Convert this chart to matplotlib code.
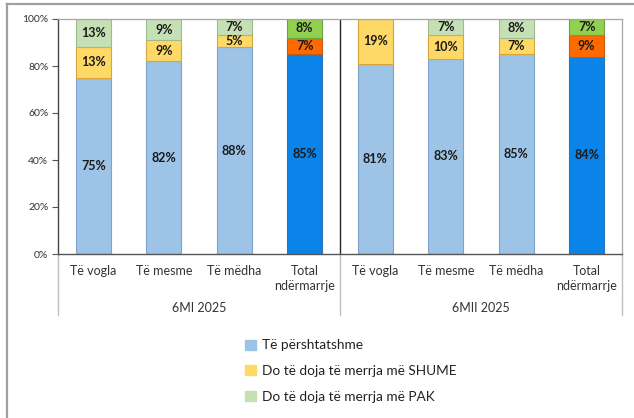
import matplotlib
matplotlib.use("Agg")
import matplotlib.pyplot as plt
from matplotlib.patches import Patch
from matplotlib.lines import Line2D
import numpy as np

plt.rcParams['font.family'] = ['Lato', 'DejaVu Sans']

categories = ["Të vogla", "Të mesme", "Të mëdha", "Total\nndërmarrje",
              "Të vogla", "Të mesme", "Të mëdha", "Total\nndërmarrje"]
groups = ["6MI 2025", "6MII 2025"]
adequate = [75, 82, 88, 85, 81, 83, 85, 84]
more = [13, 9, 5, 7, 19, 10, 7, 9]
less = [13, 9, 7, 8, 0, 7, 8, 7]
is_total = [False, False, False, True, False, False, False, True]
legend_labels = ["Të përshtatshme", "Do të doja të merrja më SHUME", "Do të doja të merrja më PAK"]

W, H = 634, 418
fig = plt.figure(figsize=(W / 100, H / 100), dpi=100)

# outer border
fig.add_artist(Line2D([7 / W, 7 / W], [0, 1 - 4 / H], color="#a0a0a0", lw=1.6))
fig.add_artist(Line2D([7 / W, 1], [1 - 4 / H, 1 - 4 / H], color="#a0a0a0", lw=1.6))

x0, x1, ytop, ybot = 58, 622, 19, 254
ax = fig.add_axes([x0 / W, 1 - ybot / H, (x1 - x0) / W, (ybot - ytop) / H])

x = np.arange(len(categories))
width = 0.5
c_adq = ["#0A84E8" if t else "#9DC3E6" for t in is_total]
c_more = ["#FF6A00" if t else "#FFD966" for t in is_total]
c_less = ["#92D050" if t else "#C5E0B4" for t in is_total]
e_adq = ["#2E75B6" if t else "#7FA3CC" for t in is_total]
e_more = ["#C55A11" if t else "#D9A53A" for t in is_total]
e_less = ["#70A040" if t else "#9DBB8C" for t in is_total]

a = np.array(adequate) / 100
m = np.array(more) / 100
l = np.array(less) / 100
ax.bar(x, a, width, color=c_adq, edgecolor=e_adq, linewidth=0.8)
ax.bar(x, m, width, bottom=a, color=c_more, edgecolor=e_more, linewidth=0.8)
ax.bar(x, l, width, bottom=a + m, color=c_less, edgecolor=e_less, linewidth=0.8)

lab_kw = dict(ha="center", va="center", fontsize=9, fontweight="bold", color="#1a1a1a")
for i in range(len(x)):
    ax.text(x[i], a[i] / 2, f"{adequate[i]}%", **lab_kw)
    if more[i]:
        ax.text(x[i], a[i] + m[i] / 2, f"{more[i]}%", **lab_kw)
    if less[i]:
        top = min(a[i] + m[i] + l[i], 1.0)
        ax.text(x[i], (a[i] + m[i] + top) / 2, f"{less[i]}%", **lab_kw)

ax.set_xlim(-0.5, 7.5)
ax.set_ylim(0, 1)
ax.set_yticks(np.linspace(0, 1, 6))
ax.set_yticklabels([f"{int(v)}%" for v in np.linspace(0, 100, 6)], fontsize=7.5, color="#333333")
ax.tick_params(axis="y", length=4, width=0.8, color="#555555", pad=3)
ax.set_xticks(x)
ax.set_xticklabels(categories, fontsize=9, color="#333333", linespacing=1.3)
ax.tick_params(axis="x", length=0, pad=8)

ax.spines["left"].set_color("#444444")
ax.spines["left"].set_linewidth(1.0)
ax.spines["bottom"].set_color("#555555")
ax.spines["bottom"].set_linewidth(1.0)
ax.spines["top"].set_color("#a6a6a6")
ax.spines["right"].set_color("#a6a6a6")
ax.spines["top"].set_linewidth(0.9)
ax.spines["right"].set_linewidth(0.9)

# divider between groups
ax.axvline(3.5, color="#222222", lw=1.0)

# separators below axis
depth = (315 - ybot) / (ybot - ytop)
for xv in [-0.5, 3.5, 7.5]:
    ax.add_line(Line2D([xv, xv], [0, -depth], color="#c0c0c0", lw=1.0, clip_on=False))

gy = -(308 - ybot) / (ybot - ytop)
ax.text(1.5, gy, groups[0], ha="center", va="center", fontsize=9, color="#333333")
ax.text(5.5, gy, groups[1], ha="center", va="center", fontsize=9, color="#333333")

handles = [Patch(facecolor="#9DC3E6", edgecolor="#9DC3E6"),
           Patch(facecolor="#FFD966", edgecolor="#FFD966"),
           Patch(facecolor="#C5E0B4", edgecolor="#C5E0B4")]
fig.legend(handles, legend_labels, loc="upper left",
           bbox_to_anchor=(240 / W, 1 - 334 / H), frameon=False,
           fontsize=9.8, handlelength=0.75, handleheight=0.75,
           handletextpad=0.5, labelspacing=1.0, borderaxespad=0,
           labelcolor="#222222")

fig.savefig("out.png", dpi=100)
